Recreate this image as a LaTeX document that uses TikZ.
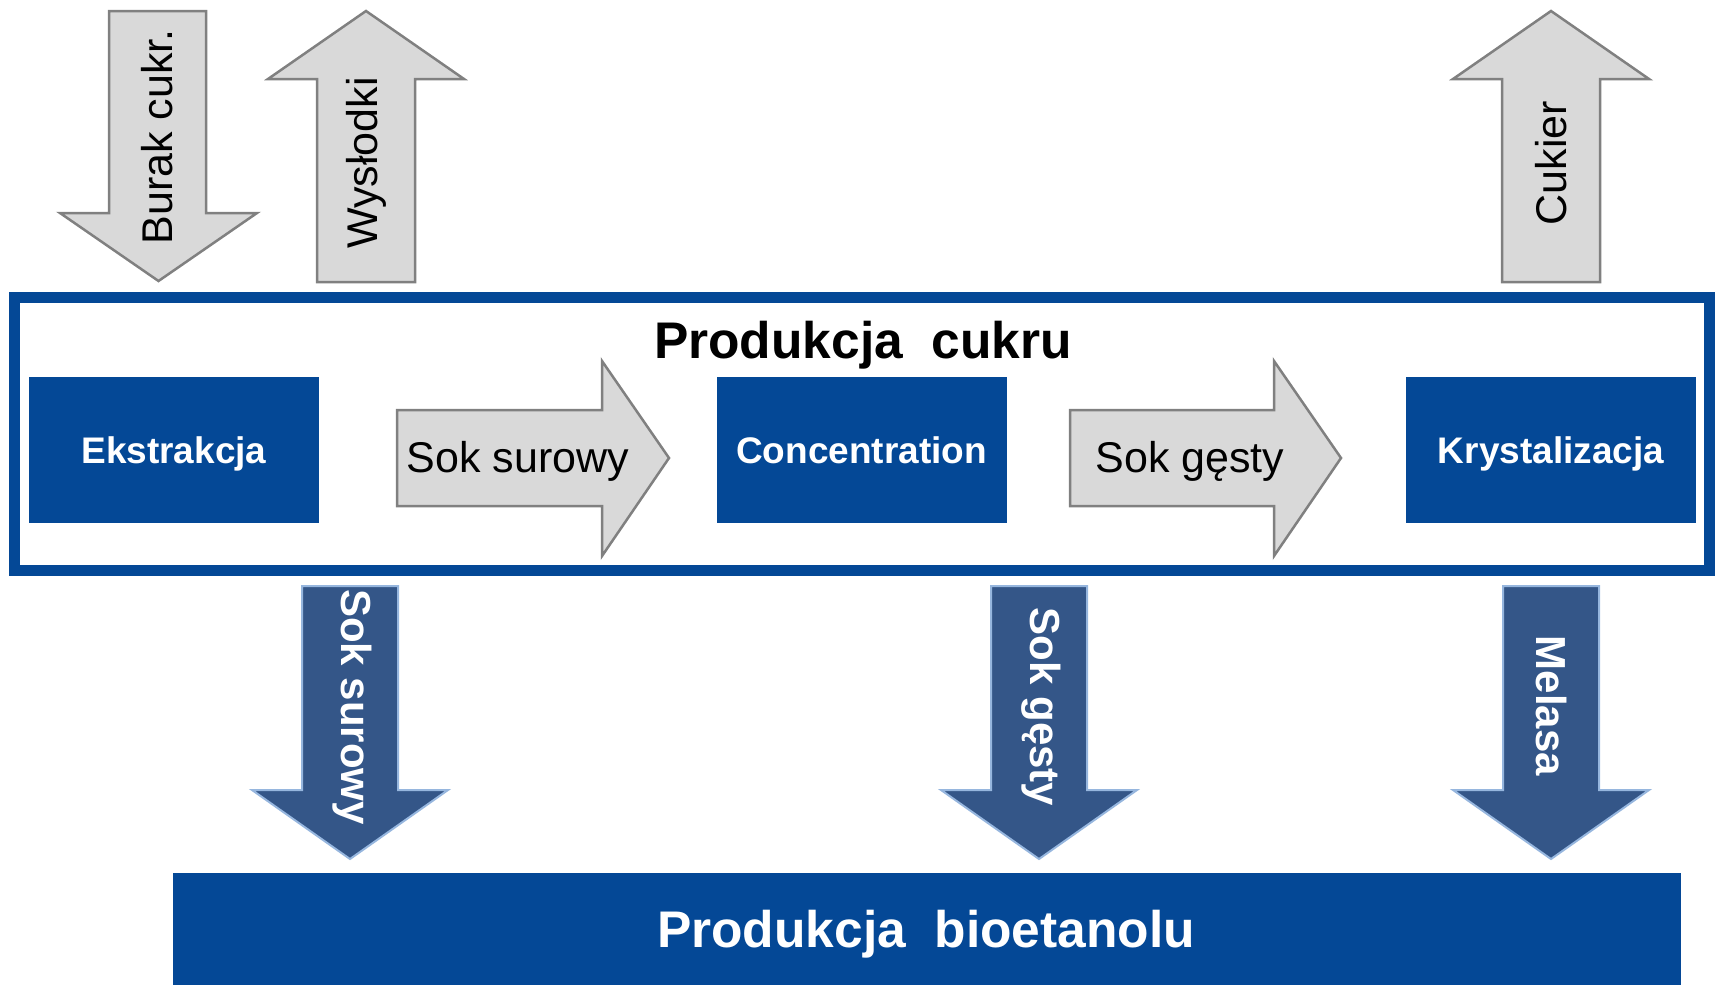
\documentclass[tikz,border=0pt]{standalone}
\usepackage{fontspec}
\setmainfont{Liberation Sans}
\usetikzlibrary{positioning}

\definecolor{boxblue}{RGB}{4,72,150}
\definecolor{flowblue}{RGB}{52,86,136}
\definecolor{flowrim}{RGB}{150,182,222}
\definecolor{arrowfill}{RGB}{217,217,217}
\definecolor{arrowrim}{RGB}{128,128,128}

\begin{document}
\begin{tikzpicture}[x=1pt,y=-1pt,
  stepbox/.style={fill=boxblue,text=white,inner sep=0pt,
    minimum width=290pt,minimum height=146pt,text height=26pt,text depth=0pt,
    font=\fontsize{37}{44}\selectfont\bfseries},
  grayarrow/.style={draw=arrowrim,fill=arrowfill,line width=2.5pt},
  bluearrow/.style={draw=flowrim,fill=flowblue,line width=2pt},
  graylabel/.style={font=\fontsize{43}{50}\selectfont},
  bluelabel/.style={text=white,font=\fontsize{42}{50}\selectfont\bfseries},
  titlelabel/.style={font=\fontsize{51.5}{60}\selectfont\bfseries}]
\useasboundingbox (0,0) rectangle (1715,985);

% Input and output arrows above the frame
\draw[grayarrow] (109,11) -- (206,11) -- (206,213) -- (257,213)
  -- (158.5,281) -- (60,213) -- (109,213) -- cycle;
\foreach \cx in {366,1551} {
    \draw[grayarrow] ({\cx-49},282) -- ({\cx-49},79) -- ({\cx-98},79)
      -- (\cx,11) -- ({\cx+98},79) -- ({\cx+49},79) -- ({\cx+49},282) -- cycle;
}
\node[graylabel,rotate=90] (burak) at (157,137) {Burak cukr.};
\node[graylabel,rotate=90] (wyslodki) at (366,163) {Wysłodki};
\node[graylabel,rotate=90] (cukier) at (1551,163) {Cukier};

% Sugar production frame
\draw[boxblue,line width=11pt] (14.5,297.5) rectangle (1709.5,570.5);
\node[titlelabel,anchor=base] (cukru) at (863,358) {Produkcja\ \ cukru};

% Process steps
\node[stepbox] (ekstrakcja) at (174,450) {Ekstrakcja};
\node[stepbox] (koncentracja) at (861.5,450) {Concentration};
\node[stepbox] (krystalizacja) at (1551,450) {Krystalizacja};

% Flow between the steps
\foreach \sx/\ex in {397/602,1070/1274} {
    \draw[grayarrow] (\sx,410) -- (\ex,410) -- (\ex,361) -- ({\ex+67},458)
      -- (\ex,556) -- (\ex,506) -- (\sx,506) -- cycle;
}
\node[graylabel] (surowy) at (518,461) {Sok surowy};
\node[graylabel] (gesty) at (1190,461) {Sok gęsty};

% Streams to bioethanol
\foreach \cx in {350,1039,1551} {
    \draw[bluearrow] ({\cx-48},586) -- ({\cx+48},586) -- ({\cx+48},790)
      -- ({\cx+98},790) -- (\cx,859) -- ({\cx-98},790) -- ({\cx-48},790) -- cycle;
}
\node[bluelabel,rotate=-90] (surowy2) at (352,707) {Sok surowy};
\node[bluelabel,rotate=-90] (gesty2) at (1041,707) {Sok gęsty};
\node[bluelabel,rotate=-90] (melasa) at (1551,706) {Melasa};

% Bioethanol production
\node[fill=boxblue,minimum width=1508pt,minimum height=112pt,inner sep=0pt]
  (bioetanol) at (927,929) {};
\node[titlelabel,text=white,anchor=base] (bioetanoltxt) at (926,947)
  {Produkcja\ \ bioetanolu};
\end{tikzpicture}
\end{document}
